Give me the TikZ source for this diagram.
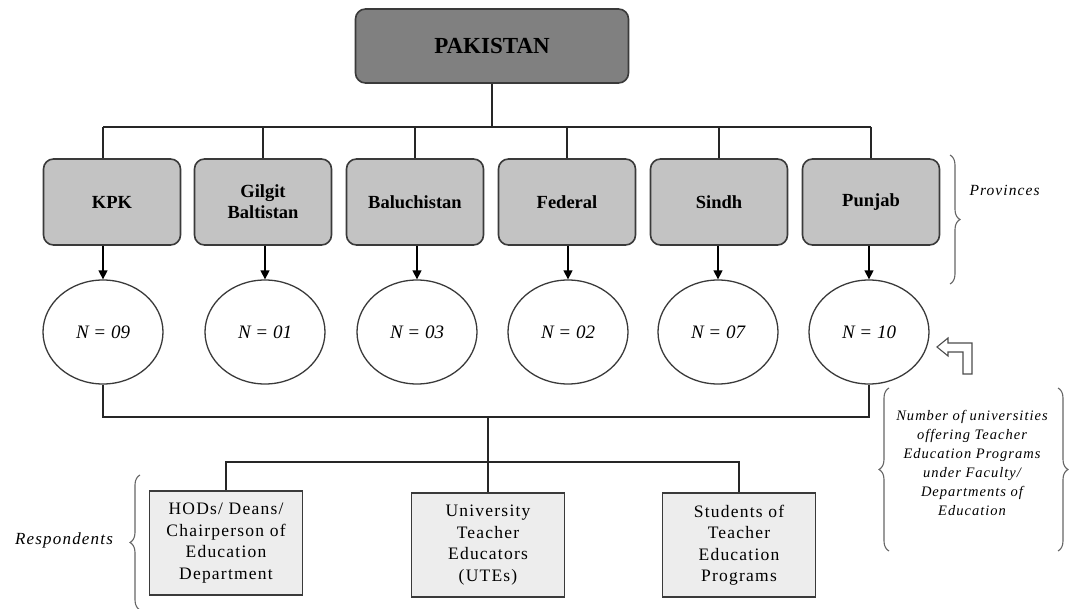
\documentclass[tikz,border=0pt]{standalone}
\usepackage{fontspec}
\setmainfont{Liberation Serif}
\newfontfamily\wideserif[LetterSpace=7]{Liberation Serif}
\usetikzlibrary{arrows.meta,shapes.geometric,decorations.pathreplacing}
\definecolor{pakfill}{HTML}{808080}
\definecolor{provfill}{HTML}{C3C3C3}
\definecolor{respfill}{HTML}{EDEDED}
\definecolor{edge}{HTML}{3A3A3A}
\begin{document}
\begin{tikzpicture}[x=1pt,y=-1pt,
  country/.style={draw=edge,line width=1.6pt,fill=pakfill,rounded corners=10pt,
    minimum width=273pt,minimum height=74pt,font=\fontsize{23}{26}\selectfont\bfseries},
  province/.style={draw=edge,line width=1.6pt,fill=provfill,rounded corners=10pt,
    minimum width=137pt,minimum height=86pt,align=center,
    font=\fontsize{18.5}{21}\selectfont\bfseries},
  count/.style={draw=edge,line width=1.3pt,fill=white,ellipse,
    minimum width=120pt,minimum height=104pt,inner sep=0pt,
    font=\fontsize{19}{22}\selectfont\itshape},
  respbox/.style={draw=edge,line width=1.7pt,fill=respfill,
    minimum width=153pt,minimum height=104pt,align=center,inner sep=2pt,
    font=\wideserif\fontsize{17.5}{21.5}\selectfont},
  bus/.style={line width=2.9pt,draw=black!85},
  feed/.style={line width=1.4pt,draw=black,-{Triangle[length=9pt,width=9pt]}},
  bracket/.style={draw=black!60,line width=1.1pt,
    decorate,decoration={brace,amplitude=10pt}},
  note/.style={font=\wideserif\itshape}]
\useasboundingbox (0,0) rectangle (1080,609);

% country
\node[country] (pak) at (492,46) {PAKISTAN};

% provinces
\node[province] (p1) at (112,202) {KPK};
\node[province] (p2) at (263,202) {Gilgit\\Baltistan};
\node[province] (p3) at (415,202) {Baluchistan};
\node[province] (p4) at (567,202) {Federal};
\node[province] (p5) at (719,202) {Sindh};
\node[province] (p6) at (871,202) {Punjab};

% university counts
\node[count] (c1) at (103,332) {N = 09};
\node[count] (c2) at (265,332) {N = 01};
\node[count] (c3) at (417,332) {N = 03};
\node[count] (c4) at (568,332) {N = 02};
\node[count] (c5) at (718,332) {N = 07};
\node[count] (c6) at (869,332) {N = 10};

% respondent groups
\node[respbox] (hod) at (226,543) {HODs/ Deans/\\Chairperson of\\Education\\Department};
\node[respbox] (ute) at (488,545) {University\\Teacher\\Educators\\(UTEs)};
\node[respbox] (stu) at (739,545) {Students of\\Teacher\\Education\\Programs};

% bus levels
\coordinate (top) at (0,127);
\coordinate (mid) at (0,417);
\coordinate (low) at (0,462);

% country to provinces
\draw[bus] (pak.south) -- (pak.south |- top);
\draw[bus] (c1 |- top) -- (p6.north |- top);
\draw[bus] (c1 |- top) -- (c1 |- p1.north);
\foreach \p in {p2,p3,p4,p5,p6}
  \draw[bus] (\p.north |- top) -- (\p.north);

% provinces to counts
\draw[feed] (c1.north |- p1.south) -- (c1.north);
\draw[feed] (c2.north |- p2.south) -- (c2.north);
\draw[feed] (c3.north |- p3.south) -- (c3.north);
\draw[feed] (c4.north |- p4.south) -- (c4.north);
\draw[feed] (c5.north |- p5.south) -- (c5.north);
\draw[feed] (c6.north |- p6.south) -- (c6.north);

% counts to respondents
\draw[bus] (c1.south) -- (c1.south |- mid) -- (c6.south |- mid) -- (c6.south);
\draw[bus] (ute.north |- mid) -- (ute.north);
\draw[bus] (hod.north) -- (hod.north |- low) -- (stu.north |- low) -- (stu.north);

% side annotations
\draw[bracket] (950,155) -- (950,284);
\node[note,font=\wideserif\itshape\fontsize{15.5}{18}\selectfont,anchor=west] (prov) at (966,190) {Provinces};

\draw[bracket] (140,610) -- (140,475);
\node[note,font=\wideserif\itshape\fontsize{17}{20}\selectfont] (resp) at (64,540) {Respondents};

\draw[bracket] (889,551) -- (889,388);
\draw[bracket] (1058,388) -- (1058,551);
\node[align=center,font=\wideserif\itshape\fontsize{14.5}{19}\selectfont] (num) at (972,463)
  {Number of universities\\offering Teacher\\Education Programs\\under Faculty/\\Departments of\\Education};

% hollow pointer towards the counts
\draw[draw=black!70,line width=1.1pt,line join=miter]
  (937,347) -- (948,338) -- (948,343) -- (972,343) -- (972,374) -- (963,374)
  -- (963,352) -- (948,352) -- (948,356) -- cycle;
\end{tikzpicture}
\end{document}
